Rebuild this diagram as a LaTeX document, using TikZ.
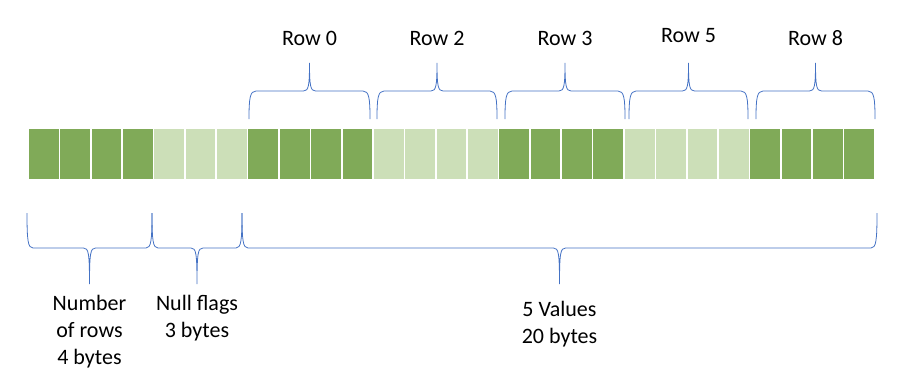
\documentclass[tikz,border=0pt]{standalone}
\usepackage{fontspec}
\setmainfont{Carlito}
\definecolor{cellDark}{RGB}{128,170,88}
\definecolor{cellLight}{RGB}{204,223,184}
\definecolor{braceBlue}{RGB}{68,114,196}
\tikzset{
    brc/.style={braceBlue, line width=0.8pt},
    lbl/.style={inner sep=0pt, align=center, font=\fontsize{22}{27}\selectfont},
    cell/.style={draw=white, line width=1.6pt}
}
\begin{document}
\begin{tikzpicture}[x=1pt, y=-1pt]
        \useasboundingbox (0,0) rectangle (902,380);
        % the bytes
        \foreach \s/\n/\c in {0/4/cellDark, 4/3/cellLight, 7/4/cellDark, 11/4/cellLight, 15/4/cellDark, 19/4/cellLight, 23/4/cellDark} {
        \foreach \k in {1,...,\n} {
        \fill[cell, fill=\c] ({28+(\s+\k-1)*31.37},128) rectangle ++(31.37,52);
        }
        }
        % braces over the rows
        \foreach \a/\b/\lab/\yb [count=\i, evaluate=\a as \m using {(\a+\b)/2}] in {249/370/Row 0/45, 377/497/Row 2/45, 505/625/Row 3/45, 629/748/Row 5/42, 756/875/Row 8/45} {
        \coordinate (rtip\i) at (\m,63);
        \draw[brc] (\a,119) .. controls (\a,98) and (\a+1,91) .. (\a+7,91) -- (\m-6,91)
            .. controls (\m-1,91) and (\m,86) .. (rtip\i)
            .. controls (\m,86) and (\m+1,91) .. (\m+6,91) -- (\b-7,91)
            .. controls (\b-1,91) and (\b,98) .. (\b,119);
        \node[lbl, anchor=base] (row\i) at (\m,\yb) {\lab};
        }
        % braces under the fields
        \foreach \a/\b/\lab/\yb [count=\i, evaluate=\a as \m using {(\a+\b)/2}] in {27/152/{Number\\of rows\\4 bytes}/311, 152/242/{Null flags\\3 bytes}/311, 242/877/{5 Values\\20 bytes}/317} {
        \coordinate (ftip\i) at (\m,284);
        \draw[brc] (\a,213) .. controls (\a,241) and (\a+1,248) .. (\a+6,248) -- (\m-6,248)
            .. controls (\m-1,248) and (\m,253) .. (ftip\i)
            .. controls (\m,253) and (\m+1,248) .. (\m+6,248) -- (\b-6,248)
            .. controls (\b-1,248) and (\b,241) .. (\b,213);
        \node[lbl, anchor=north] (field\i) at (\m,{\yb-16}) {\lab};
        }
    \end{tikzpicture}
\end{document}
